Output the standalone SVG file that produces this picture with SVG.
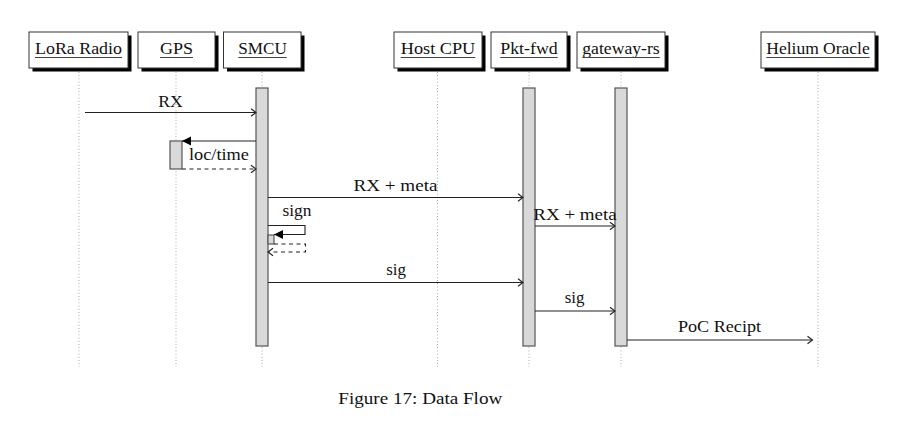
<svg xmlns="http://www.w3.org/2000/svg" width="898" height="425" viewBox="0 0 898 425">
<style>
text{font-family:"Liberation Serif","Times New Roman",serif;fill:#111;}
.hd{font-size:17px;text-anchor:middle;}
.lb{font-size:17px;text-anchor:middle;}
.box{fill:#fff;stroke:#333;stroke-width:1;}
.sh{fill:#000;}
.ul{stroke:#444;stroke-width:1.1;}
.life{stroke:#aaa;stroke-width:1;stroke-dasharray:1 2.2;fill:none;}
.act{fill:#d9d9d9;stroke:#555;stroke-width:1.2;}
.msg{fill:none;stroke:#222;stroke-width:1.1;}
.dash{stroke-dasharray:4 3.5;}
</style>
<defs>
<marker id="open" markerWidth="8" markerHeight="10" refX="6" refY="5" orient="auto" markerUnits="userSpaceOnUse">
<path d="M1,1.2 L6,5 L1,8.8" fill="none" stroke="#222" stroke-width="1.1"/>
</marker>
<marker id="solid" markerWidth="10" markerHeight="10" refX="9" refY="5" orient="auto" markerUnits="userSpaceOnUse">
<path d="M0,0.6 L9,5 L0,9.4 z" fill="#000"/>
</marker>
</defs>
<rect width="898" height="425" fill="#fff"/>

<g id="lora">
<line class="life" x1="79" y1="72" x2="79" y2="367"/>
<rect class="sh" x="32.5" y="35.5" width="99" height="36"/>
<rect class="box" x="29" y="32" width="99" height="36"/>
<text class="hd" x="78.5" y="54" textLength="87" lengthAdjust="spacingAndGlyphs">LoRa Radio</text>
<line class="ul" x1="35" y1="57.5" x2="122" y2="57.5"/>
</g>

<g id="gps">
<line class="life" x1="176" y1="72" x2="176" y2="367"/>
<rect class="sh" x="141.5" y="35.5" width="77" height="36"/>
<rect class="box" x="138" y="32" width="77" height="36"/>
<text class="hd" x="176.5" y="54" textLength="33" lengthAdjust="spacingAndGlyphs">GPS</text>
<line class="ul" x1="160" y1="57.5" x2="193" y2="57.5"/>
<rect class="act" x="170" y="141" width="12" height="28"/>
</g>

<g id="smcu">
<line class="life" x1="262" y1="72" x2="262" y2="367"/>
<rect class="sh" x="227" y="35.5" width="77.5" height="36"/>
<rect class="box" x="223.5" y="32" width="77.5" height="36"/>
<text class="hd" x="262.5" y="54" textLength="48.5" lengthAdjust="spacingAndGlyphs">SMCU</text>
<line class="ul" x1="238.25" y1="57.5" x2="286.75" y2="57.5"/>
<rect class="act" x="256" y="88" width="12" height="258"/>
<rect class="act" x="268" y="235" width="6" height="9"/>
</g>

<g id="hostcpu">
<line class="life" x1="437.5" y1="72" x2="437.5" y2="367"/>
<rect class="sh" x="397.5" y="35.5" width="88" height="36"/>
<rect class="box" x="394" y="32" width="88" height="36"/>
<text class="hd" x="438" y="54" textLength="74.5" lengthAdjust="spacingAndGlyphs">Host CPU</text>
<line class="ul" x1="400.75" y1="57.5" x2="475.25" y2="57.5"/>
</g>

<g id="pktfwd">
<line class="life" x1="529" y1="72" x2="529" y2="367"/>
<rect class="sh" x="494.5" y="35.5" width="76" height="36"/>
<rect class="box" x="491" y="32" width="76" height="36"/>
<text class="hd" x="529" y="54" textLength="57.5" lengthAdjust="spacingAndGlyphs">Pkt-fwd</text>
<line class="ul" x1="500.25" y1="57.5" x2="557.75" y2="57.5"/>
<rect class="act" x="523" y="88" width="12" height="258"/>
</g>

<g id="gatewayrs">
<line class="life" x1="621" y1="72" x2="621" y2="367"/>
<rect class="sh" x="580.5" y="35.5" width="88" height="36"/>
<rect class="box" x="577" y="32" width="88" height="36"/>
<text class="hd" x="621" y="54" textLength="77.5" lengthAdjust="spacingAndGlyphs">gateway-rs</text>
<line class="ul" x1="582.25" y1="57.5" x2="659.75" y2="57.5"/>
<rect class="act" x="615" y="88" width="12" height="258"/>
</g>

<g id="helium">
<line class="life" x1="818" y1="72" x2="818" y2="367"/>
<rect class="sh" x="764.5" y="35.5" width="114" height="36"/>
<rect class="box" x="761" y="32" width="114" height="36"/>
<text class="hd" x="818" y="54" textLength="103.5" lengthAdjust="spacingAndGlyphs">Helium Oracle</text>
<line class="ul" x1="766.25" y1="57.5" x2="869.75" y2="57.5"/>
</g>

<g id="connectors">
<path class="msg" d="M85,112.5 H256" marker-end="url(#open)"/>
<path class="msg" d="M256,141 H182" marker-end="url(#solid)"/>
<path class="msg dash" d="M182,169 H256" marker-end="url(#open)"/>
<path class="msg" d="M268,197.5 H523" marker-end="url(#open)"/>
<path class="msg" d="M268,225.5 H305 V234.5 H274" marker-end="url(#solid)"/>
<path class="msg dash" d="M274,244 H305.5 V252 H268" marker-end="url(#open)"/>
<path class="msg" d="M535,226 H615" marker-end="url(#open)"/>
<path class="msg" d="M268,282.5 H523" marker-end="url(#open)"/>
<path class="msg" d="M535,311 H615" marker-end="url(#open)"/>
<path class="msg" d="M627,340 H812.5" marker-end="url(#open)"/>
</g>

<g id="labels">
<text class="lb" x="170.5" y="106.5" textLength="24.5" lengthAdjust="spacingAndGlyphs">RX</text>
<text class="lb" x="219" y="159.5" textLength="60" lengthAdjust="spacingAndGlyphs">loc/time</text>
<text class="lb" x="395.5" y="191" textLength="84" lengthAdjust="spacingAndGlyphs">RX + meta</text>
<text class="lb" x="297" y="216" textLength="29" lengthAdjust="spacingAndGlyphs">sign</text>
<text class="lb" x="575" y="219.5" textLength="83.5" lengthAdjust="spacingAndGlyphs">RX + meta</text>
<text class="lb" x="396" y="274.5" textLength="19.7" lengthAdjust="spacingAndGlyphs">sig</text>
<text class="lb" x="574.5" y="302.5" textLength="19.7" lengthAdjust="spacingAndGlyphs">sig</text>
<text class="lb" x="719.5" y="332" textLength="83" lengthAdjust="spacingAndGlyphs">PoC Recipt</text>
</g>

<text x="338.3" y="404.3" style="font-size:16.5px" textLength="164" lengthAdjust="spacingAndGlyphs">Figure 17: Data Flow</text>
</svg>
